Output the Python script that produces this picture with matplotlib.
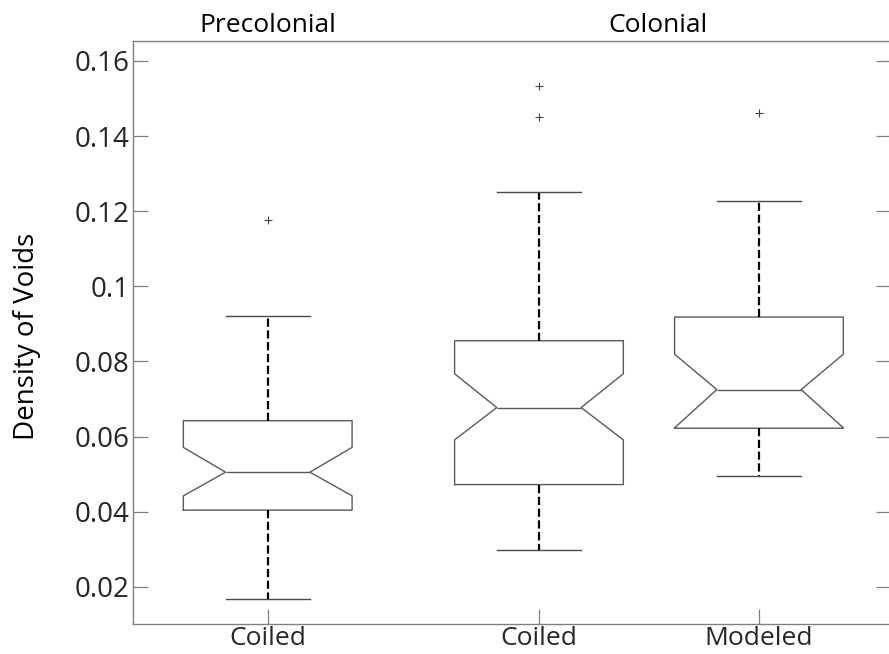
import matplotlib
matplotlib.use("Agg")
import matplotlib.pyplot as plt

# ---- data ----
labels = ["Coiled", "Coiled", "Modeled"]
groups = ["Precolonial", "Colonial"]
whislo = [0.0168, 0.0299, 0.0496]
q1 = [0.0404, 0.0472, 0.0622]
med = [0.0505, 0.0677, 0.0725]
q3 = [0.0642, 0.0855, 0.0918]
whishi = [0.0922, 0.1250, 0.1227]
cilo = [0.0442, 0.0591, 0.0623]
cihi = [0.0571, 0.0767, 0.0819]
fliers = [[0.1176], [0.1451, 0.1534], [0.1462]]
yticks = [0.02, 0.04, 0.06, 0.08, 0.1, 0.12, 0.14, 0.16]
yticklabels = ["0.02", "0.04", "0.06", "0.08", "0.1", "0.12", "0.14", "0.16"]

# ---- layout ----
positions = [1.0, 2.233, 3.233]
plt.rcParams['font.family'] = ['Open Sans', 'DejaVu Sans']

W, H = 889, 654
fig = plt.figure(figsize=(W / 100, H / 100), dpi=100)
ax = fig.add_axes([133.3 / W, 29.7 / H, (891 - 133.3) / W, (624.3 - 41) / H])

stats = []
for i in range(3):
    stats.append(dict(whislo=whislo[i], q1=q1[i], med=med[i], q3=q3[i],
                      whishi=whishi[i], cilo=cilo[i], cihi=cihi[i],
                      fliers=fliers[i], label=labels[i]))

ax.bxp(stats, positions=positions, widths=0.767, shownotches=True,
       boxprops=dict(color="#5a5a5a", linewidth=1.0),
       medianprops=dict(color="#5a5a5a", linewidth=1.0),
       whiskerprops=dict(color="black", linewidth=1.6, linestyle="--"),
       capprops=dict(color="#4a4a4a", linewidth=1.0),
       flierprops=dict(marker="+", markersize=6, markeredgecolor="#444444",
                       markeredgewidth=0.8, linestyle="none"))

ax.set_xlim(0.389, 1.0 + (891 - 267.7) / 220)
ax.set_ylim(0.01, 0.1653)
ax.set_yticks(yticks)
ax.set_yticklabels(yticklabels)
ax.set_xticks(positions)
ax.set_xticklabels(labels)

ax.tick_params(axis="y", direction="in", length=11, width=0.9, color="#808080",
               labelsize=20, labelcolor="#262626", pad=3, right=True)
ax.tick_params(axis="x", direction="in", length=11, width=0.9, color="#808080",
               labelsize=19, labelcolor="#262626", pad=1, top=False)
for s in ax.spines.values():
    s.set_color("#808080")
    s.set_linewidth(1.0)

fig.text(27 / W, 1 - 336 / H, "Density of Voids", rotation=90,
         ha="center", va="center", fontsize=20, color="black")

# group titles above the axes
ax.text(positions[0], 1.0, groups[0], transform=ax.get_xaxis_transform(),
        ha="center", va="bottom", fontsize=19, color="black")
ax.text((positions[1] + positions[2]) / 2 + 0.04, 1.0, groups[1],
        transform=ax.get_xaxis_transform(),
        ha="center", va="bottom", fontsize=19, color="black")
for t in ax.texts:
    t.set_y(1.0 + 3 / (624.3 - 41))

fig.savefig("out.png", dpi=100)
